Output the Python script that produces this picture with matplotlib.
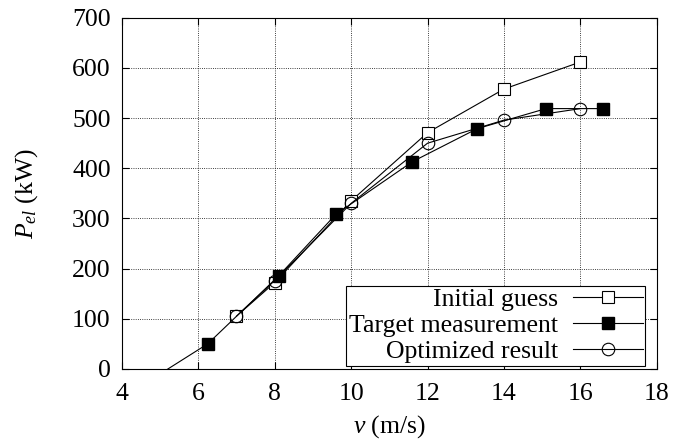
import matplotlib
matplotlib.use("Agg")
import matplotlib.pyplot as plt

plt.rcParams['font.family'] = ['Liberation Serif', 'DejaVu Serif']
plt.rcParams['mathtext.fontset'] = 'custom'
plt.rcParams['mathtext.rm'] = 'Liberation Serif'
plt.rcParams['mathtext.it'] = 'Liberation Serif:italic'

# initial guess
v_init = [7, 8, 10, 12, 14, 16]
p_init = [105, 172, 335, 471, 558, 612]

# target measurement
v_meas = [4.9, 6.25, 8.1, 9.6, 11.6, 13.3, 15.1, 16.6]
p_meas = [-15, 50, 185, 308, 413, 479, 519, 519]

# optimized result
v_opt = [7, 8, 10, 12, 14, 16]
p_opt = [105, 176, 330, 450, 496, 519]

fs = 18.5

fig = plt.figure(figsize=(6.73, 4.46), dpi=100)
ax = fig.add_axes([0.181, 0.173, 0.795, 0.787])

ax.plot(v_init, p_init, '-', color='black', lw=0.8, marker='s', ms=9,
        mfc='white', mec='black', mew=0.8, label='Initial guess')
ax.plot(v_meas, p_meas, '-', color='black', lw=0.8, marker='s', ms=9,
        mfc='black', mec='black', label='Target measurement')
ax.plot(v_opt, p_opt, '-', color='black', lw=0.8, marker='o', ms=9,
        mfc='none', mec='black', mew=0.8, label='Optimized result')

ax.set_xlim(4, 18)
ax.set_ylim(0, 700)
ax.set_xticks(range(4, 19, 2))
ax.set_yticks(range(0, 701, 100))
ax.grid(True, color='black', linestyle=':', linewidth=0.6)
ax.tick_params(direction='in', top=True, right=True, labelsize=fs, length=5)
ax.tick_params(axis='x', pad=10)
ax.tick_params(axis='y', pad=8)
for s in ax.spines.values():
    s.set_linewidth(0.8)

ax.set_xlabel(r'$v$ (m/s)', fontsize=fs, labelpad=6)
ax.set_ylabel(r'$P_{el}$ (kW)', fontsize=fs, labelpad=23)

leg = ax.legend(loc='lower right', bbox_to_anchor=(0.978, 0.008), markerfirst=False,
                fontsize=fs, frameon=True, fancybox=False, edgecolor='black',
                framealpha=1, borderpad=0.1, labelspacing=0.12, handlelength=2.7,
                handletextpad=0.6, borderaxespad=0.0)
leg.get_frame().set_linewidth(0.8)

fig.savefig("out.png", dpi=100)
